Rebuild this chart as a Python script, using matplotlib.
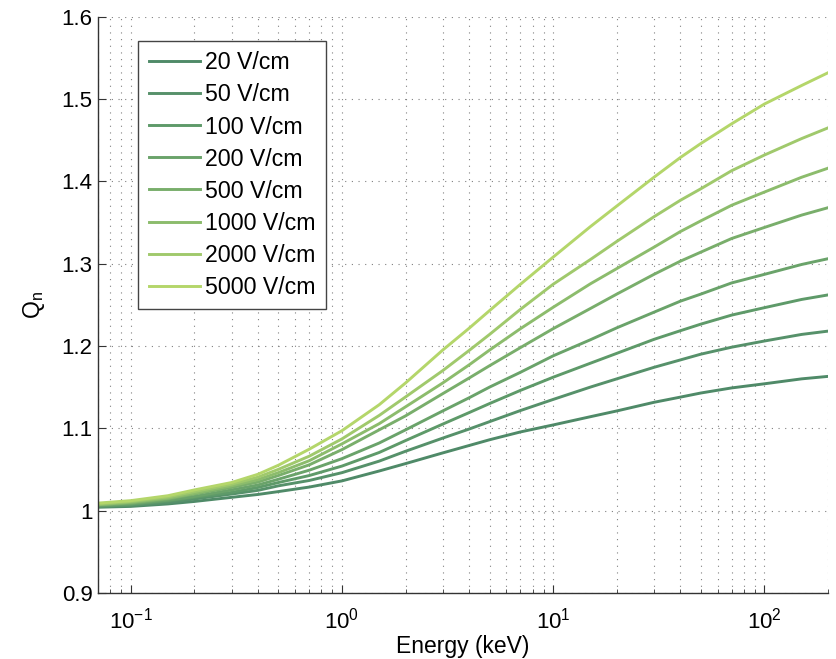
import numpy as np
import matplotlib
matplotlib.use("Agg")
import matplotlib.pyplot as plt
from matplotlib.ticker import FuncFormatter, LogLocator, FixedLocator

plt.rcParams['font.family'] = ['Liberation Sans', 'DejaVu Sans']
plt.rcParams['mathtext.fontset'] = 'custom'
plt.rcParams['mathtext.rm'] = 'Liberation Sans'
plt.rcParams['mathtext.it'] = 'Liberation Sans'
plt.rcParams['mathtext.default'] = 'regular'

energy = [0.07, 0.1, 0.15, 0.2, 0.3, 0.4, 0.5, 0.7, 1, 1.5, 2, 3, 4, 5, 7,
          10, 15, 20, 30, 40, 50, 70, 100, 150, 200]

fields = ["20 V/cm", "50 V/cm", "100 V/cm", "200 V/cm",
          "500 V/cm", "1000 V/cm", "2000 V/cm", "5000 V/cm"]

qn_20 = [1.004, 1.005, 1.008, 1.011, 1.016, 1.0195, 1.023, 1.0285, 1.036, 1.048, 1.057, 1.070, 1.079,
         1.086, 1.0955, 1.104, 1.114, 1.121, 1.1315, 1.1378, 1.1428, 1.149, 1.154, 1.160, 1.163]
qn_50 = [1.005, 1.006, 1.0095, 1.014, 1.020, 1.0245, 1.030, 1.0365, 1.046, 1.060, 1.072, 1.088, 1.099,
         1.108, 1.1215, 1.135, 1.150, 1.160, 1.174, 1.183, 1.190, 1.1985, 1.206, 1.214, 1.218]
qn_100 = [1.005, 1.007, 1.0115, 1.016, 1.022, 1.028, 1.034, 1.0425, 1.054, 1.0705, 1.085, 1.105, 1.119,
          1.130, 1.146, 1.162, 1.179, 1.191, 1.208, 1.2185, 1.2265, 1.2375, 1.2465, 1.2565, 1.262]
qn_200 = [1.006, 1.008, 1.0125, 1.017, 1.025, 1.031, 1.038, 1.049, 1.063, 1.082, 1.098, 1.121, 1.137,
          1.150, 1.168, 1.188, 1.2075, 1.222, 1.241, 1.2544, 1.263, 1.2766, 1.287, 1.299, 1.306]
qn_500 = [1.007, 1.009, 1.014, 1.020, 1.028, 1.0345, 1.0425, 1.0555, 1.074, 1.098, 1.115, 1.142, 1.161,
          1.176, 1.198, 1.221, 1.2455, 1.263, 1.287, 1.303, 1.314, 1.3306, 1.344, 1.359, 1.368]
qn_1000 = [1.007, 1.010, 1.015, 1.021, 1.030, 1.0375, 1.046, 1.0605, 1.081, 1.1055, 1.126, 1.155, 1.177,
           1.195, 1.221, 1.247, 1.2755, 1.294, 1.320, 1.339, 1.352, 1.371, 1.387, 1.405, 1.416]
qn_2000 = [1.008, 1.011, 1.0165, 1.023, 1.032, 1.0405, 1.050, 1.066, 1.087, 1.1155, 1.138, 1.170, 1.1945,
           1.214, 1.2445, 1.275, 1.305, 1.327, 1.357, 1.377, 1.391, 1.413, 1.432, 1.452, 1.465]
qn_5000 = [1.009, 1.012, 1.018, 1.025, 1.034, 1.044, 1.055, 1.0745, 1.097, 1.1285, 1.155, 1.195, 1.2215,
           1.243, 1.275, 1.308, 1.345, 1.370, 1.405, 1.429, 1.446, 1.470, 1.494, 1.5165, 1.532]

series = [qn_20, qn_50, qn_100, qn_200, qn_500, qn_1000, qn_2000, qn_5000]
colors = ["#4f8a68", "#56916a", "#5e9a69", "#6aa36a",
          "#79ae6b", "#8cbc6c", "#a0c96c", "#b4d66a"]

fig = plt.figure(figsize=(8.37, 6.59), dpi=100)
ax = fig.add_axes([98 / 837, 1 - 592.8 / 659, 730 / 837, 576 / 659])

for q, c, lab in zip(series, colors, fields):
    ax.plot(energy, q, color=c, lw=2.1, label=lab, solid_joinstyle='round')

ax.set_xscale('log')
ax.set_xlim(0.07, 200)
ax.set_ylim(0.9, 1.6)

ax.yaxis.set_major_locator(FixedLocator(np.arange(0.9, 1.61, 0.1)))
ax.yaxis.set_major_formatter(FuncFormatter(lambda v, p: "%g" % round(v, 1)))
ax.xaxis.set_major_locator(LogLocator(base=10, numticks=10))
ax.xaxis.set_minor_locator(LogLocator(base=10, subs=np.arange(2, 10), numticks=20))

grid_style = dict(color='#808080', linestyle=(0, (1, 5)), linewidth=0.8)
ax.grid(True, which='major', axis='both', **grid_style)
ax.grid(True, which='minor', axis='x', **grid_style)

for s in ['top', 'right']:
    ax.spines[s].set_visible(False)
for s in ['left', 'bottom']:
    ax.spines[s].set_linewidth(1.0)
    ax.spines[s].set_color('#333333')

ax.tick_params(which='both', direction='in', labelsize=16, colors='#333333',
               labelcolor='black')
ax.tick_params(which='major', length=6)
ax.tick_params(which='minor', length=3)
ax.tick_params(axis='x', which='major', pad=11)
ax.tick_params(axis='y', pad=4)

ax.set_xlabel("Energy (keV)", fontsize=16.5, labelpad=1)
ax.set_ylabel("Q$_n$", fontsize=16.5, labelpad=10)

leg = ax.legend(loc='upper left', bbox_to_anchor=(0.055, 0.958), borderaxespad=0,
                fontsize=16.7, handlelength=2.2, handletextpad=0.22,
                labelspacing=0.39, borderpad=0.45, fancybox=False,
                framealpha=1, edgecolor='#444444')
leg.get_frame().set_linewidth(1.0)

fig.savefig("out.png", dpi=100)
